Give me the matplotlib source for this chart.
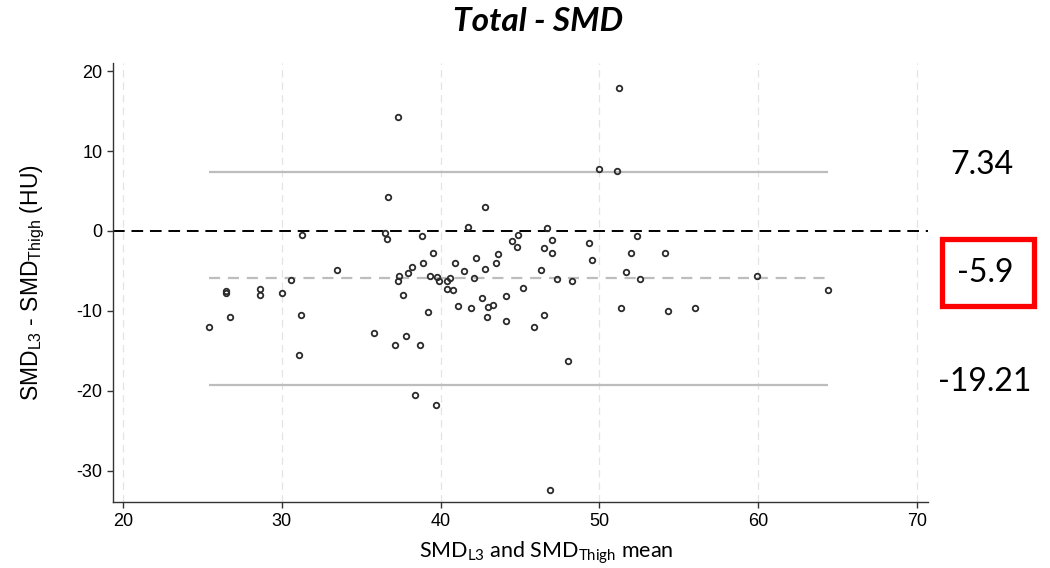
import matplotlib
matplotlib.use("Agg")
from matplotlib import pyplot as plt
from matplotlib.patches import Rectangle

# Bland-Altman data: mean of the two SMD values vs. difference
mean_vals = [25.4, 26.5, 26.5, 26.75, 28.6, 28.6, 30.0, 30.6, 31.25, 31.2,
             31.1, 33.5, 35.8, 36.5, 36.6, 36.7, 37.1, 37.3, 37.3, 37.4,
             37.6, 37.8, 37.95, 38.2, 38.37, 38.7, 38.8, 38.9, 39.2, 39.3,
             39.5, 39.7, 39.8, 39.9, 40.4, 40.4, 40.6, 40.8, 40.9, 41.1,
             41.5, 41.7, 41.9, 42.1, 42.2, 42.6, 42.8, 42.8, 42.9, 43.0,
             43.3, 43.5, 43.6, 44.1, 44.1, 44.5, 44.8, 44.9, 45.2, 45.85,
             46.3, 46.5, 46.5, 46.7, 46.9, 47.0, 47.0, 47.3, 48.0, 48.3,
             49.35, 49.5, 50.0, 51.1, 51.2, 51.35, 51.7, 52.0, 52.35, 52.55,
             54.1, 54.3, 56.0, 59.9, 64.4]
diff_vals = [-12.0, -7.5, -7.8, -10.7, -7.2, -8.0, -7.7, -6.1, -0.5, -10.5,
             -15.5, -4.9, -12.7, -0.3, -1.0, 4.3, -14.3, 14.2, -6.3, -5.6,
             -8.0, -13.1, -5.3, -4.5, -20.5, -14.2, -0.6, -4.0, -10.1, -5.6,
             -2.75, -21.7, -5.8, -6.2, -6.3, -7.3, -5.9, -7.4, -4.0, -9.4,
             -5.0, 0.5, -9.6, -5.9, -3.4, -8.4, 3.0, -4.8, -10.8, -9.5,
             -9.2, -4.0, -2.9, -8.1, -11.2, -1.3, -2.0, -0.5, -7.1, -12.0,
             -4.9, -2.1, -10.5, 0.4, -32.4, -1.1, -2.75, -6.0, -16.3, -6.3,
             -1.5, -3.6, 7.75, 7.5, 17.9, -9.6, -5.1, -2.8, -0.6, -6.0,
             -2.8, -10.0, -9.6, -5.6, -7.4]

bias = -5.9
loa_upper = 7.34
loa_lower = -19.21

x_ticks = [20, 30, 40, 50, 60, 70]
y_ticks = [20, 10, 0, -10, -20, -30]

plt.rcParams['font.family'] = ['Liberation Sans', 'DejaVu Sans']
plt.rcParams['mathtext.default'] = 'regular'
plt.rcParams['axes.unicode_minus'] = False

fig = plt.figure(figsize=(10.5, 5.68), dpi=100)
ax = fig.add_axes([0.1076, 0.116, 0.7764, 0.773])

# vertical dashed grid
for xt in x_ticks:
    ax.axvline(xt, color='#e4e4e4', lw=0.9, ls=(0, (6, 4)), zorder=0)

xmin, xmax = min(mean_vals), max(mean_vals)

# zero line, limits of agreement and bias
ax.axhline(0, color='black', lw=1.4, ls=(0, (6, 3.5)), zorder=2)
ax.hlines([loa_upper, loa_lower], xmin, xmax, color='#bdbdbd', lw=1.6, zorder=1)
ax.hlines(bias, xmin, xmax, color='#bdbdbd', lw=1.6, ls=(0, (5, 3.5)), zorder=1)

ax.plot(mean_vals, diff_vals, 'o', ms=4, mfc='none', mec='#2b2b2b', mew=1.3, zorder=3)

ax.set_xlim(19.37, 70.7)
ax.set_ylim(-33.9, 21)
ax.set_xticks(x_ticks)
ax.set_yticks(y_ticks)
ax.tick_params(axis='both', labelsize=13, length=4.5, width=1, color='#333333',
               direction='out', pad=3)
for side in ['top', 'right']:
    ax.spines[side].set_visible(False)
for side in ['left', 'bottom']:
    ax.spines[side].set_color('#333333')
    ax.spines[side].set_linewidth(1)

ax.set_ylabel('SMD$_{L3}$ - SMD$_{Thigh}$ (HU)', fontsize=16.5)
ax.yaxis.set_label_coords(-0.081, 0.5)
ax.set_xlabel('SMD$_{L3}$ and SMD$_{Thigh}$ mean', fontsize=15.5, family=['Lato', 'DejaVu Sans'])
ax.xaxis.set_label_coords(0.531, -0.085)

fig.text(0.512, 0.962, 'Total - SMD', ha='center', va='center', fontsize=24,
         fontweight='bold', fontstyle='italic', family=['Lato', 'DejaVu Sans'])

# value annotations at the right
fig.text(0.935, 1 - 165 / 568, '7.34', ha='center', va='center', fontsize=23,
         family=['Lato', 'DejaVu Sans'])
fig.text(0.938, 1 - 273 / 568, '-5.9', ha='center', va='center', fontsize=23,
         family=['Lato', 'DejaVu Sans'])
fig.text(0.938, 1 - 382 / 568, '-19.21', ha='center', va='center', fontsize=23,
         family=['Lato', 'DejaVu Sans'])
fig.patches.append(Rectangle((942 / 1050, 1 - 306 / 568), 92 / 1050, 67 / 568,
                             transform=fig.transFigure, fill=False,
                             edgecolor='#ff0000', lw=3.8))

fig.savefig('out.png', dpi=100)
